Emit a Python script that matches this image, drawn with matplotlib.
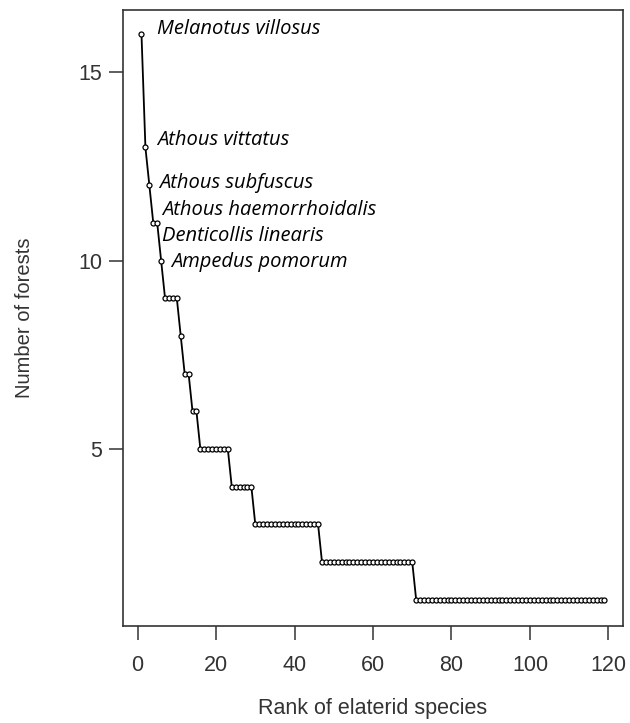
import numpy as np
import matplotlib.pyplot as plt

plt.rcParams['font.family'] = ['Liberation Sans', 'DejaVu Sans']

# number of forests per abundance level, and how many species share it
levels = [16, 13, 12, 11, 10, 9, 8, 7, 6, 5, 4, 3, 2, 1]
n_species = [1, 1, 1, 2, 1, 4, 1, 2, 2, 8, 6, 17, 24, 49]

# labelled species: rank of the species and its name
label_ranks = [1, 2, 3, 4, 5, 6]
label_names = ['Melanotus villosus', 'Athous vittatus', 'Athous subfuscus',
               'Athous haemorrhoidalis', 'Denticollis linearis', 'Ampedus pomorum']

forests = np.repeat(levels, n_species)
rank = np.arange(1, len(forests) + 1)

fig = plt.figure(figsize=(6.3, 7.23), dpi=100)
ax = fig.add_axes([0.1952, 0.1342, 0.7937, 0.852])

ax.plot(rank, forests, '-', color='black', lw=1.3,
        marker='o', ms=3.6, mfc='white', mec='black', mew=0.9)

# label offsets (data units) from each point
offsets = [(3.9, 0.14), (2.9, 0.19), (2.5, 0.07), (2.2, 0.34), (1.2, -0.36), (2.5, -0.03)]
for r, name, (dx, dy) in zip(label_ranks, label_names, offsets):
    ax.text(r + dx, forests[r - 1] + dy, name, fontsize=14.5, style='italic',
            family=['Open Sans', 'DejaVu Sans'], va='center', ha='left')

ax.set_xlim(-3.72, 123.72)
ax.set_ylim(0.3, 16.65)
ax.set_xticks([0, 20, 40, 60, 80, 100, 120])
ax.set_yticks([5, 10, 15])

for s in ax.spines.values():
    s.set_linewidth(1.2)
    s.set_color('#333333')
ax.tick_params(axis='x', length=10, width=1.1, pad=11, labelsize=15.5, colors='#333333')
ax.tick_params(axis='y', length=10, width=1.1, pad=5, labelsize=15.5, colors='#333333')

ax.set_xlabel('Rank of elaterid species', fontsize=15.5, labelpad=16, color='#333333')
ax.set_ylabel('Number of forests', fontsize=14.5, labelpad=32, color='#333333')

fig.savefig('out.png', dpi=100)
